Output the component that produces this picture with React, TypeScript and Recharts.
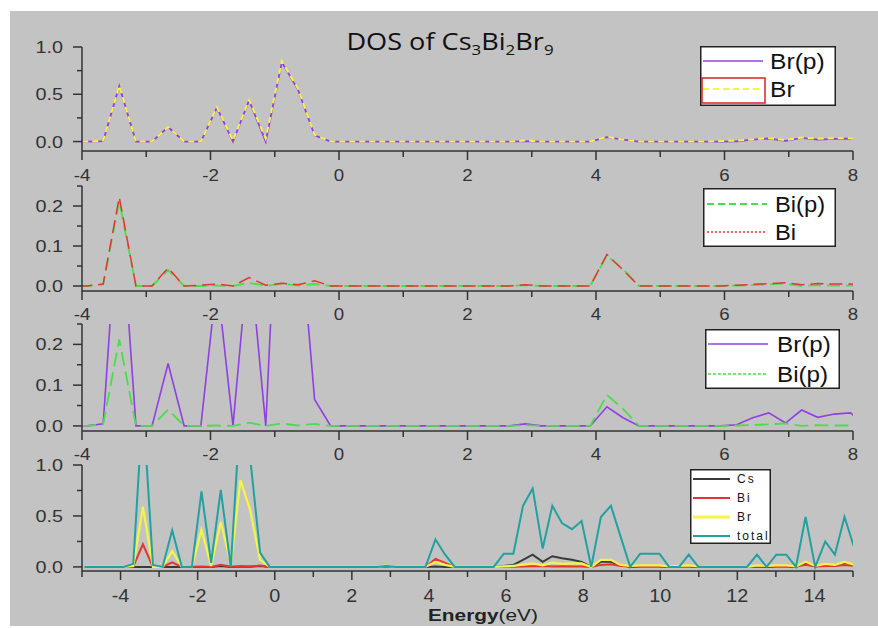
import React from 'react'
import { LineChart, Line, XAxis, YAxis } from 'recharts'

// energy grid in eV, shared by all four panels
const ENERGY = [
  -4.93, -4.68, -4.43, -4.18, -3.92, -3.67, -3.42, -3.16, -2.91, -2.66,
  -2.41, -2.15, -1.9, -1.65, -1.4, -1.14, -0.89, -0.64, -0.38, -0.13,
  0.12, 0.37, 0.63, 0.88, 1.13, 1.39, 1.64, 1.89, 2.14, 2.4,
  2.65, 2.9, 3.15, 3.41, 3.66, 3.91, 4.17, 4.42, 4.67, 4.92,
  5.18, 5.43, 5.68, 5.94, 6.19, 6.44, 6.69, 6.95, 7.2, 7.45,
  7.71, 7.96, 8.21, 8.46, 8.72, 8.97, 9.22, 9.48, 9.73, 9.98,
  10.23, 10.49, 10.74, 10.99, 11.24, 11.5, 11.75, 12.0, 12.25, 12.51,
  12.76, 13.01, 13.27, 13.52, 13.77, 14.02, 14.28, 14.53, 14.78, 15.04,
]

const TOTAL = [
  0, 0, 0, 0, 0, 0.03, 1.6, 0.02, 0, 0.36,
  0, 0, 0.74, 0.04, 0.755, 0, 1.55, 1.08, 0.14, 0,
  0, 0, 0, 0, 0, 0, 0, 0, 0, 0,
  0, 0.01, 0, 0, 0, 0, 0.27, 0.12, 0, 0,
  0, 0, 0, 0.13, 0.13, 0.6, 0.77, 0.18, 0.6, 0.43,
  0.37, 0.45, 0, 0.49, 0.6, 0.3, 0, 0.13, 0.13, 0.13,
  0, 0, 0.12, 0, 0, 0, 0, 0, 0, 0.12,
  0, 0.12, 0.12, 0, 0.49, 0, 0.25, 0.12, 0.49, 0.18,
]

const CS = [
  0, 0, 0, 0, 0, 0, 0, 0, 0, 0,
  0, 0, 0, 0, 0.008, 0, 0.003, 0.002, 0.01, 0,
  0, 0, 0, 0, 0, 0, 0, 0, 0, 0,
  0, 0, 0, 0, 0, 0, 0.005, 0, 0, 0,
  0, 0, 0, 0.01, 0.02, 0.07, 0.12, 0.05, 0.105, 0.085,
  0.07, 0.05, 0, 0.05, 0.05, 0.02, 0, 0.005, 0.005, 0.005,
  0, 0.003, 0.005, 0, 0, 0, 0, 0, 0, 0.005,
  0, 0.005, 0.005, 0, 0.04, 0.005, 0.02, 0.02, 0.04, 0.02,
]

const BI = [
  0, 0, 0, 0, 0, 0.005, 0.222, 0, 0, 0.045,
  0, 0.002, 0.005, 0, 0.021, 0.002, 0.007, 0.003, 0.013, 0,
  0, 0, 0, 0, 0, 0, 0, 0, 0, 0,
  0, 0.003, 0, 0, 0, 0, 0.079, 0.04, 0, 0,
  0, 0, 0, 0, 0.002, 0.004, 0.006, 0.008, 0.003, 0.006,
  0.005, 0.005, 0, 0.02, 0.025, 0.008, 0.003, 0.008, 0.008, 0.008,
  0.003, 0.005, 0.008, 0.003, 0, 0, 0, 0, 0, 0.008,
  0.005, 0.008, 0.008, 0.003, 0.02, 0.005, 0.01, 0.01, 0.02, 0.01,
]

const BI_P = [
  0, 0, 0, 0, 0, 0.004, 0.212, 0, 0, 0.04,
  0, 0, 0.001, 0, 0.008, 0, 0.006, 0.001, 0.005, 0,
  0, 0, 0, 0, 0, 0, 0, 0, 0, 0,
  0, 0.002, 0, 0, 0, 0, 0.076, 0.042, 0, 0,
  0, 0, 0, 0, 0.001, 0.002, 0.004, 0.006, 0, 0.002,
  0.001, 0.001, 0, 0.015, 0.02, 0.006, 0.002, 0.006, 0.006, 0.006,
  0.002, 0.004, 0.006, 0.002, 0, 0, 0, 0, 0, 0.006,
  0.004, 0.006, 0.006, 0.002, 0.015, 0.004, 0.008, 0.008, 0.015, 0.008,
]

const BR = [
  0, 0, 0, 0, 0, 0.01, 0.59, 0, 0, 0.155,
  0, 0, 0.365, 0.01, 0.44, 0.03, 0.85, 0.56, 0.07, 0,
  0, 0, 0, 0, 0, 0, 0, 0, 0, 0,
  0, 0.01, 0, 0, 0, 0, 0.05, 0.02, 0, 0,
  0, 0, 0, 0.005, 0.01, 0.022, 0.035, 0.015, 0.042, 0.03,
  0.035, 0.035, 0, 0.07, 0.07, 0.02, 0.01, 0.015, 0.015, 0.015,
  0.005, 0.01, 0.015, 0.005, 0, 0, 0, 0, 0, 0.015,
  0.01, 0.015, 0.015, 0.005, 0.05, 0.01, 0.03, 0.02, 0.05, 0.02,
]

const BR_P = [
  0, 0, 0, 0, 0, 0.005, 0.585, 0, 0, 0.153,
  0, 0, 0.36, 0, 0.435, 0, 0.84, 0.55, 0.065, 0,
  0, 0, 0, 0, 0, 0, 0, 0, 0, 0,
  0, 0.005, 0, 0, 0, 0, 0.047, 0.02, 0, 0,
  0, 0, 0, 0, 0.003, 0.02, 0.032, 0.007, 0.039, 0.021,
  0.029, 0.032, 0, 0.06, 0.06, 0.015, 0.005, 0.01, 0.01, 0.01,
  0.003, 0.008, 0.01, 0.003, 0, 0, 0, 0, 0, 0.01,
  0.008, 0.01, 0.01, 0.003, 0.04, 0.008, 0.025, 0.015, 0.04, 0.015,
]

const Y_TICKS_UNIT = [0, 0.25, 0.5, 0.75, 1]
const Y_LABELS_UNIT = [0, 0.5, 1]
const Y_TICKS_SMALL = [0, 0.05, 0.1, 0.15, 0.2, 0.25]
const Y_LABELS_SMALL = [0, 0.1, 0.2]
const X_TICKS_SHORT = [-4, -3, -2, -1, 0, 1, 2, 3, 4, 5, 6, 7, 8]
const X_LABELS_SHORT = [-4, -2, 0, 2, 4, 6, 8]
const X_TICKS_WIDE = [-5, -4, -3, -2, -1, 0, 1, 2, 3, 4, 5, 6, 7, 8, 9, 10, 11, 12, 13, 14, 15]
const X_LABELS_WIDE = [-4, -2, 0, 2, 4, 6, 8, 10, 12, 14]

const rows = ENERGY.map((e, i) => ({
  e,
  total: TOTAL[i],
  cs: CS[i],
  bi: BI[i],
  biP: BI_P[i],
  br: BR[i],
  brP: BR_P[i],
}))

const W = 878
const H = 628
const Y_AXIS_W = 60
const X_AXIS_H = 30
const TICK_SIZE = 9
const TICK_MARGIN = 4
const AXIS = '#333'
const FONT = '"Liberation Sans", Arial, sans-serif'

const PURPLE = '#9040e0'
const YELLOW = '#f4f44a'
const RED = '#e63530'
const GREEN = '#4ade4a'
const TEAL = '#23a0a0'
const DARK = '#3a3a3a'

const renderYTick = (labels: number[]) => (props: any) => {
  const { x, y, payload } = props
  const axisX = x + TICK_SIZE + TICK_MARGIN
  const major = labels.includes(payload.value)
  return (
    <g>
      <line x1={axisX - (major ? 9 : 5)} x2={axisX} y1={y} y2={y} stroke={AXIS} strokeWidth={1.5} />
      {major && (
        <text
          transform={`translate(${axisX - 19},${y + 6}) scale(1.2,1)`}
          textAnchor="end"
          fontFamily={FONT}
          fontSize={16.5}
          fill={AXIS}
        >
          {payload.value.toFixed(1)}
        </text>
      )}
    </g>
  )
}

const renderXTick = (labels: number[], fontSize: number, dy: number) => (props: any) => {
  const { x, y, payload } = props
  const axisY = y - TICK_SIZE - TICK_MARGIN
  const major = labels.includes(payload.value)
  return (
    <g>
      <line x1={x} x2={x} y1={axisY} y2={axisY + (major ? 9 : 6)} stroke={AXIS} strokeWidth={1.5} />
      {major && (
        <text
          transform={`translate(${x},${axisY + dy}) scale(1.1,1)`}
          textAnchor="middle"
          fontFamily={FONT}
          fontSize={fontSize}
          fill={AXIS}
        >
          {payload.value}
        </text>
      )}
    </g>
  )
}

type PanelProps = {
  top: number
  bottom: number
  xDomain: [number, number]
  xTicks: number[]
  xLabels: number[]
  yDomain: [number, number]
  yTicks: number[]
  yLabels: number[]
  xFont: number
  xDy: number
  children: React.ReactNode
}

const Panel = ({ top, bottom, xDomain, xTicks, xLabels, yDomain, yTicks, yLabels, xFont, xDy, children }: PanelProps) => (
  <div style={{ position: 'absolute', left: 0, top: 0 }}>
    <LineChart
      width={W}
      height={H}
      data={rows}
      margin={{ top, right: 25, bottom: H - bottom - X_AXIS_H, left: 82 - Y_AXIS_W }}
    >
      <XAxis
        dataKey="e"
        type="number"
        domain={xDomain}
        allowDataOverflow
        ticks={xTicks}
        interval={0}
        height={X_AXIS_H}
        tickSize={TICK_SIZE}
        tickMargin={TICK_MARGIN}
        tickLine={false}
        tick={renderXTick(xLabels, xFont, xDy)}
        axisLine={{ stroke: AXIS, strokeWidth: 1.5 }}
      />
      <YAxis
        type="number"
        domain={yDomain}
        allowDataOverflow
        ticks={yTicks}
        interval={0}
        width={Y_AXIS_W}
        tickSize={TICK_SIZE}
        tickMargin={TICK_MARGIN}
        tickLine={false}
        tick={renderYTick(yLabels)}
        axisLine={{ stroke: AXIS, strokeWidth: 1.5 }}
      />
      {children}
    </LineChart>
  </div>
)

type LegendRow = { label: string; color: string; dash?: string; width?: number; y: number; boxed?: boolean }

const LegendBox = ({
  left, top, width, height, rows: items, lineX, lineLen, textX, fontSize, scale, spacing = 0,
}: {
  left: number; top: number; width: number; height: number; rows: LegendRow[]
  lineX: number; lineLen: number; textX: number; fontSize: number; scale: number; spacing?: number
}) => (
  <svg width={width} height={height} style={{ position: 'absolute', left, top, overflow: 'visible' }}>
    <rect x={0.75} y={0.75} width={width - 1.5} height={height - 1.5} fill="#fff" stroke="#222" strokeWidth={1.5} />
    {items.map((r) => (
      <g key={r.label}>
        {r.boxed && (
          <rect x={lineX - 1} y={r.y - 11} width={lineLen + 3} height={25} fill="none" stroke="#e02020" strokeWidth={1.5} />
        )}
        <line
          x1={lineX}
          x2={lineX + lineLen}
          y1={r.y}
          y2={r.y}
          stroke={r.color}
          strokeWidth={r.width ?? 1.5}
          strokeDasharray={r.dash}
        />
        <text
          transform={`translate(${textX},${r.y + fontSize * 0.36}) scale(${scale},1)`}
          fontFamily={FONT}
          fontSize={fontSize}
          letterSpacing={spacing}
          fill="#111"
        >
          {r.label}
        </text>
      </g>
    ))}
  </svg>
)

const sub = { fontSize: 15, position: 'relative' as const, top: 5 }

export default function App() {
  return (
    <div style={{ position: 'absolute', left: 0, top: 0, width: W, height: H, background: '#fff', overflow: 'hidden' }}>
      <div style={{ position: 'absolute', left: 10, top: 11, width: 868, height: 615, background: '#c3c3c3' }} />

      <div
        style={{
          position: 'absolute', left: 0, top: 29, width: 900, textAlign: 'center', fontFamily: '"Open Sans", sans-serif',
          fontSize: 24, lineHeight: '24px', color: '#111', transform: 'scaleX(1.13)', transformOrigin: '450px 0',
        }}
      >
        DOS of Cs<span style={sub}>3</span>Bi<span style={sub}>2</span>Br<span style={sub}>9</span>
      </div>

      <Panel top={47} bottom={151} xDomain={[-4, 8]} xTicks={X_TICKS_SHORT} xLabels={X_LABELS_SHORT}
        yDomain={[-0.1, 1]} yTicks={Y_TICKS_UNIT} yLabels={Y_LABELS_UNIT} xFont={17} xDy={30}>
        <Line dataKey="brP" type="linear" stroke={PURPLE} strokeWidth={1.8} dot={false} isAnimationActive={false} />
        <Line dataKey="br" type="linear" stroke={YELLOW} strokeWidth={2} strokeDasharray="6 4" dot={false} isAnimationActive={false} />
      </Panel>

      <Panel top={186} bottom={291} xDomain={[-4, 8]} xTicks={X_TICKS_SHORT} xLabels={X_LABELS_SHORT}
        yDomain={[-0.0125, 0.25]} yTicks={Y_TICKS_SMALL} yLabels={Y_LABELS_SMALL} xFont={17} xDy={29}>
        <Line dataKey="biP" type="linear" stroke={GREEN} strokeWidth={1.8} strokeDasharray="13 6" dot={false} isAnimationActive={false} />
        <Line dataKey="bi" type="linear" stroke={RED} strokeWidth={1.5} strokeDasharray="13 6" dot={false} isAnimationActive={false} />
      </Panel>

      <Panel top={324} bottom={431} xDomain={[-4, 8]} xTicks={X_TICKS_SHORT} xLabels={X_LABELS_SHORT}
        yDomain={[-0.0125, 0.25]} yTicks={Y_TICKS_SMALL} yLabels={Y_LABELS_SMALL} xFont={17} xDy={29}>
        <Line dataKey="brP" type="linear" stroke={PURPLE} strokeWidth={1.6} dot={false} isAnimationActive={false} />
        <Line dataKey="biP" type="linear" stroke={GREEN} strokeWidth={1.8} strokeDasharray="14 6" dot={false} isAnimationActive={false} />
      </Panel>

      <Panel top={465} bottom={571} xDomain={[-5, 15]} xTicks={X_TICKS_WIDE} xLabels={X_LABELS_WIDE}
        yDomain={[-0.04, 1]} yTicks={Y_TICKS_UNIT} yLabels={Y_LABELS_UNIT} xFont={18} xDy={31}>
        <Line dataKey="cs" type="linear" stroke={DARK} strokeWidth={2} dot={false} isAnimationActive={false} />
        <Line dataKey="bi" type="linear" stroke={RED} strokeWidth={2} dot={false} isAnimationActive={false} />
        <Line dataKey="br" type="linear" stroke={YELLOW} strokeWidth={2.2} dot={false} isAnimationActive={false} />
        <Line dataKey="total" type="linear" stroke={TEAL} strokeWidth={2} dot={false} isAnimationActive={false} />
      </Panel>

      <LegendBox left={700} top={46} width={136} height={60} lineX={3} lineLen={60} textX={70} fontSize={22} scale={1.12}
        rows={[
          { label: 'Br(p)', color: PURPLE, y: 15 },
          { label: 'Br', color: YELLOW, dash: '6 4', width: 2, y: 43, boxed: true },
        ]} />
      <LegendBox left={703} top={188} width={133} height={59} lineX={4} lineLen={60} textX={72} fontSize={22} scale={1.08}
        rows={[
          { label: 'Bi(p)', color: GREEN, dash: '7 4', width: 2, y: 16 },
          { label: 'Bi', color: RED, dash: '2 2', y: 44 },
        ]} />
      <LegendBox left={705} top={329} width={135} height={60} lineX={3} lineLen={60} textX={72} fontSize={22} scale={1.1}
        rows={[
          { label: 'Br(p)', color: PURPLE, y: 15 },
          { label: 'Bi(p)', color: GREEN, dash: '3 2', y: 45 },
        ]} />
      <LegendBox left={690} top={469} width={81} height={75} lineX={3} lineLen={37} textX={47} fontSize={12} scale={1} spacing={2}
        rows={[
          { label: 'Cs', color: DARK, width: 2, y: 10 },
          { label: 'Bi', color: RED, width: 2, y: 29 },
          { label: 'Br', color: YELLOW, width: 3, y: 48 },
          { label: 'total', color: TEAL, width: 2, y: 67 },
        ]} />

      <div
        style={{
          position: 'absolute', left: 428, top: 608, fontFamily: FONT, fontSize: 16, lineHeight: '16px', color: '#222',
          transform: 'scaleX(1.3)', transformOrigin: '0 0', whiteSpace: 'nowrap',
        }}
      >
        <b>Energy</b>(eV)
      </div>
    </div>
  )
}
